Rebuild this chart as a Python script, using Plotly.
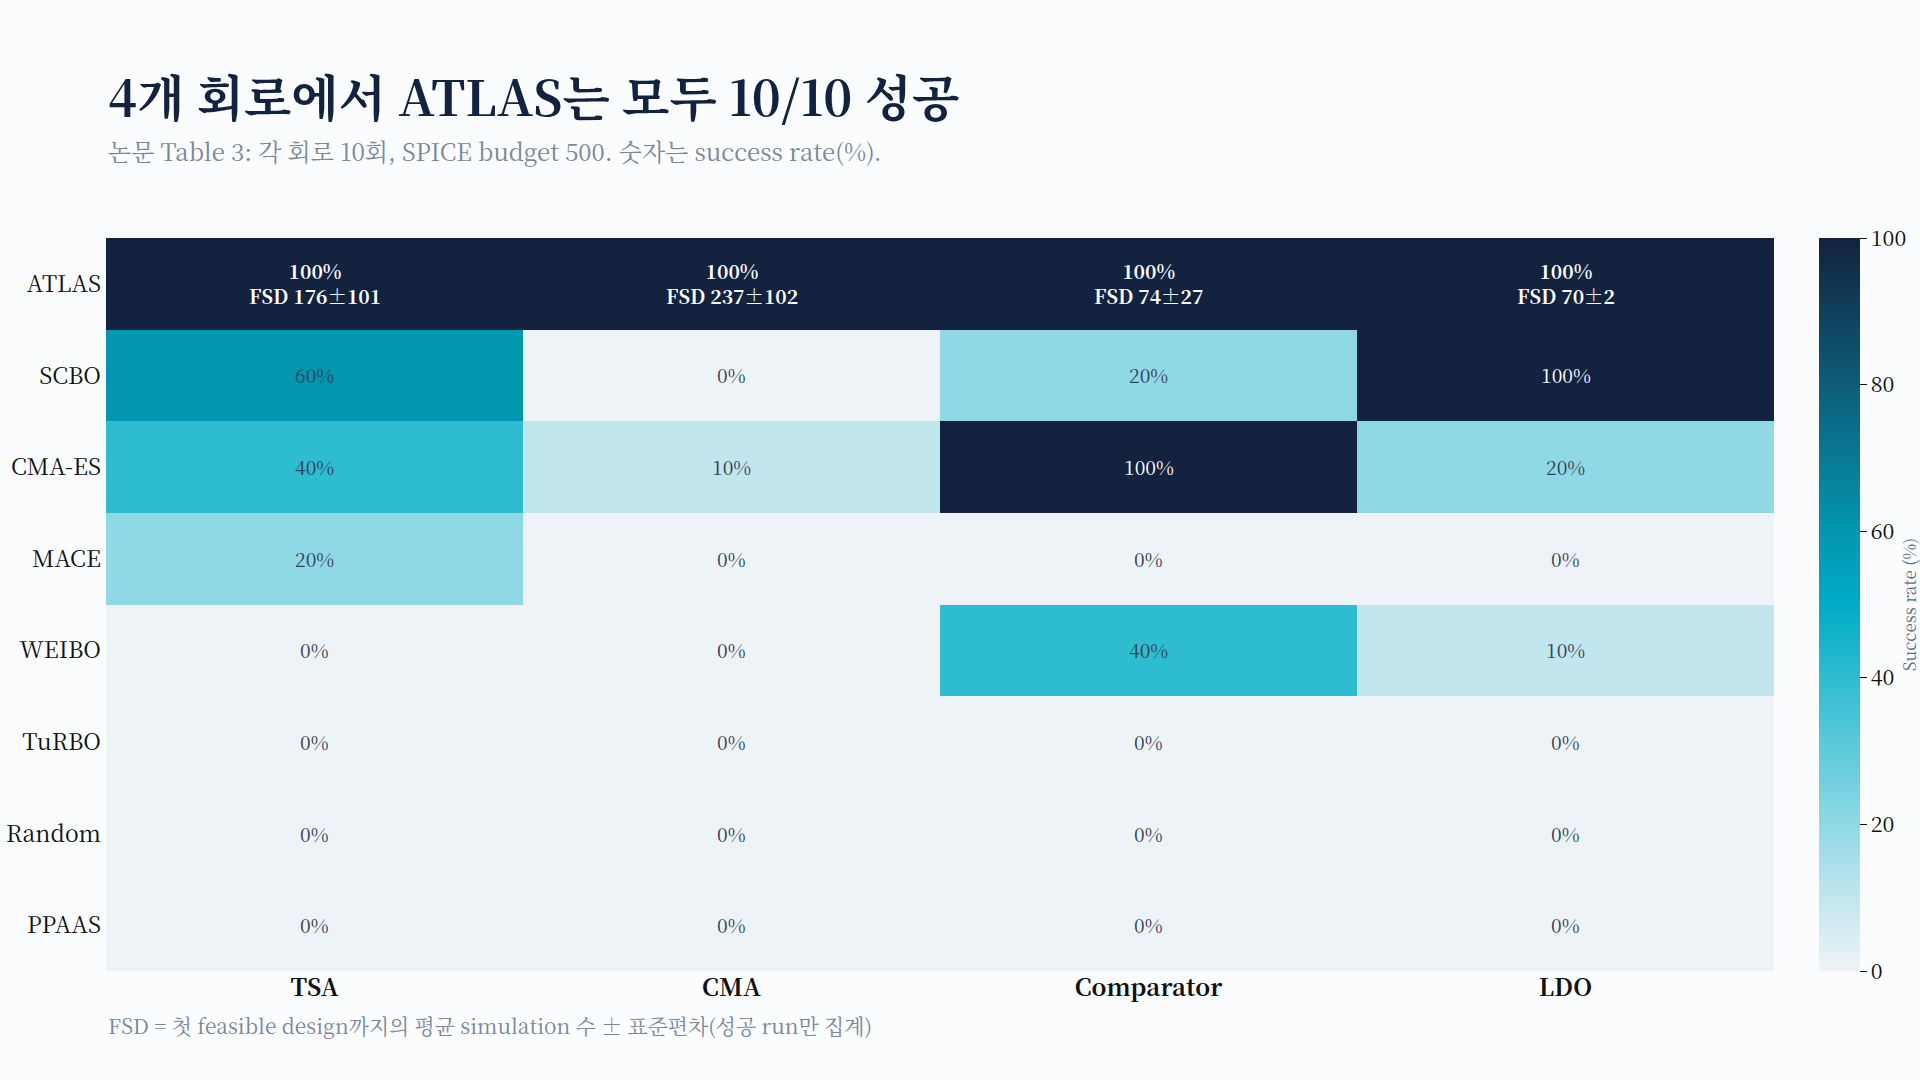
import plotly.graph_objects as go

# Table 3 data: success rate (%) per method x circuit
circuits = ["TSA", "CMA", "Comparator", "LDO"]
methods = ["ATLAS", "SCBO", "CMA-ES", "MACE", "WEIBO", "TuRBO", "Random", "PPAAS"]
success = [
    [100, 100, 100, 100],
    [60, 0, 20, 100],
    [40, 10, 100, 20],
    [20, 0, 0, 0],
    [0, 0, 40, 10],
    [0, 0, 0, 0],
    [0, 0, 0, 0],
    [0, 0, 0, 0],
]
# ATLAS mean / std of simulations to first feasible design
fsd_mean = [176, 237, 74, 70]
fsd_std = [101, 102, 27, 2]

FONT = "Noto Serif CJK KR, Noto Serif KR, Liberation Serif, serif"
colorscale = [
    [0.0, "#eef3f7"],
    [0.1, "#c1e6ee"],
    [0.2, "#8fd8e5"],
    [0.4, "#2ebcd1"],
    [0.5, "#00acc6"],
    [0.6, "#0396b0"],
    [0.8, "#0d5d78"],
    [1.0, "#13223f"],
]

fig = go.Figure(go.Heatmap(
    z=success,
    x=circuits,
    y=methods,
    zmin=0,
    zmax=100,
    colorscale=colorscale,
    xgap=0,
    ygap=0,
    hovertemplate="%{y} / %{x}: %{z}%<extra></extra>",
    colorbar=dict(
        thickness=41,
        len=1,
        lenmode="fraction",
        ypad=0,
        x=1.0208,
        xanchor="left",
        y=0.5,
        outlinewidth=0,
        ticks="outside",
        ticklen=7,
        tickcolor="#111111",
        tickvals=[0, 20, 40, 60, 80, 100],
        tickfont=dict(family=FONT, size=21.5, color="#111111"),
        title=dict(text="Success rate (%)", side="right",
                   font=dict(family=FONT, size=17, color="#5b6b80")),
    ),
))

# cell labels
annotations = []
for i, m in enumerate(methods):
    for j, c in enumerate(circuits):
        v = success[i][j]
        if m == "ATLAS":
            txt = f"<b>{v}%<br>FSD {fsd_mean[j]}±{fsd_std[j]}</b>"
            col = "#ffffff"
        else:
            txt = f"{v}%"
            col = "#ffffff" if v > 60 else "#334155"
        annotations.append(dict(x=c, y=m, text=txt, showarrow=False,
                                font=dict(family=FONT, size=19.4, color=col)))

annotations += [
    dict(text="<b>4개 회로에서 ATLAS는 모두 10/10 성공</b>", xref="paper", yref="paper",
         x=0, y=1.195, xanchor="left", yanchor="middle", showarrow=False,
         font=dict(family=FONT, size=49, color="#13223f")),
    dict(text="논문 Table 3: 각 회로 10회, SPICE budget 500. 숫자는 success rate(%).",
         xref="paper", yref="paper", x=0, y=1.119, xanchor="left", yanchor="middle",
         showarrow=False, font=dict(family=FONT, size=24, color="#7b8799")),
    dict(text="FSD = 첫 feasible design까지의 평균 simulation 수 ± 표준편차(성공 run만 집계)",
         xref="paper", yref="paper", x=0, y=-0.073, xanchor="left", yanchor="middle",
         showarrow=False, font=dict(family=FONT, size=20.9, color="#7b8799")),
]

fig.update_layout(
    width=1920,
    height=1080,
    paper_bgcolor="#fafcfe",
    plot_bgcolor="#fafcfe",
    margin=dict(l=106, r=146, t=238, b=109, autoexpand=False),
    annotations=annotations,
    font=dict(family=FONT),
)
fig.update_xaxes(
    tickvals=circuits,
    ticktext=[f"<b>{c}</b>" for c in circuits],
    tickfont=dict(family=FONT, size=24, color="#111111"),
    showgrid=False, zeroline=False, ticks="",
)
fig.update_yaxes(
    autorange="reversed",
    tickfont=dict(family=FONT, size=23, color="#111111"),
    showgrid=False, zeroline=False, ticks="", ticklabelstandoff=4,
)

# page margin off so the 1920x1080 figure sits flush in the window
fig.write_html("out.html",
               config={"displayModeBar": False},
               post_script="document.body.style.margin='0';document.body.style.overflow='hidden';")
